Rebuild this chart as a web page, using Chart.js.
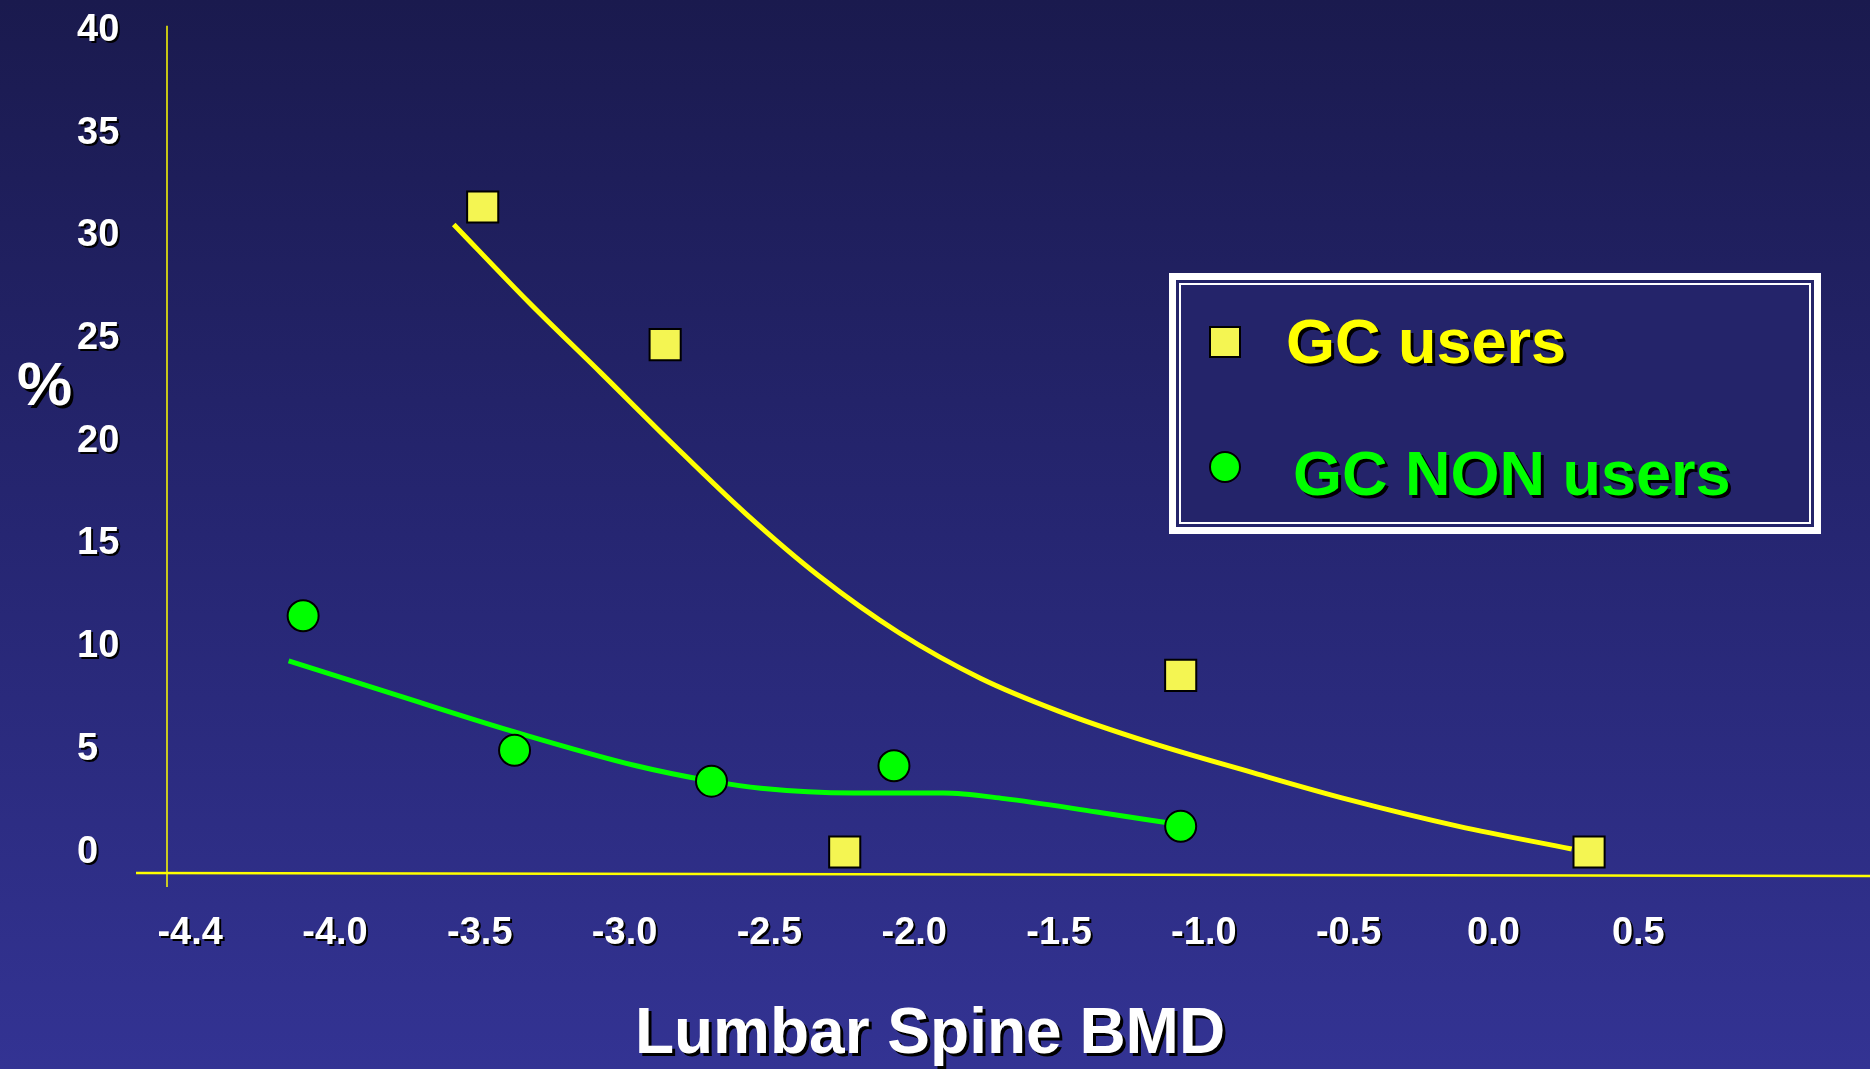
<!DOCTYPE html>
<html>
<head>
<meta charset="utf-8">
<script src="https://cdn.jsdelivr.net/npm/chart.js@4.4.1/dist/chart.umd.min.js"></script>
<style>
html, body { margin: 0; padding: 0; overflow: hidden; }
body {
    width: 1870px;
    height: 1069px;
    background: linear-gradient(to bottom, #1a1a4e 0%, #262672 50%, #333393 100%);
}
#wrap { position: relative; width: 1870px; height: 1069px; }
</style>
</head>
<body>
<div id="wrap"><canvas id="bmdChart"></canvas></div>
<script>
// axis ticks (the first slot is printed "-4.4" on the slide)
var xTickValues = [-4.5, -4.0, -3.5, -3.0, -2.5, -2.0, -1.5, -1.0, -0.5, 0.0, 0.5];
var xTickLabels = ['-4.4', '-4.0', '-3.5', '-3.0', '-2.5', '-2.0', '-1.5', '-1.0', '-0.5', '0.0', '0.5'];
var yTickValues = [0, 5, 10, 15, 20, 25, 30, 35, 40];

// observed points
var gcUsersX = [-3.49, -2.86, -2.24, -1.08, 0.33];
var gcUsersY = [31.4, 24.7, 0, 8.6, 0];
var gcNonUsersX = [-4.11, -3.38, -2.70, -2.07, -1.08];
var gcNonUsersY = [11.5, 4.95, 3.45, 4.2, 1.25];

// fitted trend curves
var gcUsersFitX = [-3.59, -3.33, -3.08, -2.84, -2.58, -2.33, -2.05, -1.77, -1.50, -1.19, -0.84, -0.50, -0.12, 0.27];
var gcUsersFitY = [30.55, 26.75, 23.3, 19.95, 16.45, 13.45, 10.65, 8.45, 6.85, 5.35, 3.9, 2.55, 1.25, 0.15];
var gcNonUsersFitX = [-4.16, -3.80, -3.38, -2.96, -2.70, -2.53, -2.21, -1.90, -1.69, -1.37, -1.09];
var gcNonUsersFitY = [9.3, 7.7, 5.85, 4.2, 3.45, 3.1, 2.87, 2.87, 2.6, 1.95, 1.35];

var FONT = '"Liberation Sans", Arial, sans-serif';
Chart.defaults.font.family = FONT;

function toPoints(xs, ys) {
    return xs.map(function (x, i) { return { x: x, y: ys[i] }; });
}

var slidePlugin = {
    id: 'slide',
    beforeDraw: function (chart) {
        // drop shadow for the tick labels
        var ctx = chart.ctx;
        ctx.shadowColor = '#000';
        ctx.shadowOffsetX = 2;
        ctx.shadowOffsetY = 2;
        ctx.shadowBlur = 0;
    },
    beforeDatasetsDraw: function (chart) {
        var ctx = chart.ctx;
        var a = chart.chartArea;
        ctx.shadowColor = 'rgba(0,0,0,0)';
        ctx.shadowOffsetX = 0;
        ctx.shadowOffsetY = 0;

        ctx.save();
        ctx.strokeStyle = '#ffff00';
        ctx.lineWidth = 1.5;
        ctx.beginPath();
        ctx.moveTo(a.left, a.top);
        ctx.lineTo(a.left, a.bottom + 13);
        ctx.stroke();
        ctx.lineWidth = 2.5;
        ctx.beginPath();
        ctx.moveTo(a.left - 31, a.bottom - 1);
        ctx.lineTo(a.right, a.bottom + 2);
        ctx.stroke();
        ctx.restore();
    },
    afterDraw: function (chart) {
        var ctx = chart.ctx;
        var usersSet = chart.data.datasets[0];
        var nonSet = chart.data.datasets[1];

        ctx.save();
        ctx.shadowColor = '#000';
        ctx.shadowOffsetX = 3;
        ctx.shadowOffsetY = 3;
        ctx.shadowBlur = 0;
        ctx.fillStyle = '#fff';
        ctx.textBaseline = 'alphabetic';
        ctx.font = 'bold 64px ' + FONT;
        ctx.textAlign = 'center';
        ctx.fillText('Lumbar Spine BMD', 930, 1053);
        ctx.font = 'bold 62px ' + FONT;
        ctx.textAlign = 'left';
        ctx.fillText('%', 17, 405);

        // legend box with double white frame
        ctx.shadowColor = 'rgba(0,0,0,0)';
        ctx.fillStyle = '#fff';
        ctx.fillRect(1169, 273, 652, 261);
        ctx.fillStyle = '#24246a';
        ctx.fillRect(1176, 280, 638, 247);
        ctx.strokeStyle = '#fff';
        ctx.lineWidth = 2;
        ctx.strokeRect(1180, 284, 630, 239);

        ctx.fillStyle = usersSet.backgroundColor;
        ctx.strokeStyle = '#000';
        ctx.lineWidth = 2;
        ctx.fillRect(1210, 327, 30, 30);
        ctx.strokeRect(1210, 327, 30, 30);

        ctx.fillStyle = nonSet.backgroundColor;
        ctx.beginPath();
        ctx.arc(1225, 467, 15, 0, Math.PI * 2);
        ctx.fill();
        ctx.stroke();

        ctx.shadowColor = '#000';
        ctx.font = 'bold 63px ' + FONT;
        ctx.fillStyle = '#ffff00';
        ctx.fillText(usersSet.label, 1286, 363);
        ctx.fillStyle = '#00ff00';
        ctx.fillText(nonSet.label, 1293, 495);
        ctx.restore();
    }
};

var bmdChart = new Chart(document.getElementById('bmdChart'), {
    type: 'scatter',
    data: {
        datasets: [
            {
                label: 'GC users',
                data: toPoints(gcUsersX, gcUsersY),
                pointStyle: 'rect',
                pointRadius: 22,
                backgroundColor: '#f4f552',
                borderColor: '#000',
                borderWidth: 2
            },
            {
                label: 'GC NON users',
                data: toPoints(gcNonUsersX, gcNonUsersY),
                pointStyle: 'circle',
                pointRadius: 15.5,
                backgroundColor: '#00ff00',
                borderColor: '#000',
                borderWidth: 2
            },
            {
                label: 'GC users trend',
                data: toPoints(gcUsersFitX, gcUsersFitY),
                showLine: true,
                pointRadius: 0,
                borderColor: '#ffff00',
                borderWidth: 5,
                cubicInterpolationMode: 'monotone'
            },
            {
                label: 'GC NON users trend',
                data: toPoints(gcNonUsersFitX, gcNonUsersFitY),
                showLine: true,
                pointRadius: 0,
                borderColor: '#00ff00',
                borderWidth: 5,
                cubicInterpolationMode: 'monotone'
            }
        ]
    },
    options: {
        responsive: true,
        maintainAspectRatio: false,
        animation: false,
        events: [],
        layout: { autoPadding: false, padding: { left: 77, top: 24, right: 0, bottom: 0 } },
        plugins: {
            legend: { display: false },
            tooltip: { enabled: false }
        },
        scales: {
            x: {
                type: 'linear',
                min: -4.58,
                max: 1.30,
                grid: { display: false },
                border: { display: false },
                afterBuildTicks: function (scale) {
                    scale.ticks = xTickValues.map(function (v) { return { value: v }; });
                },
                afterFit: function (scale) { scale.height = 195; },
                ticks: {
                    autoSkip: false,
                    maxRotation: 0,
                    padding: 29,
                    color: '#fff',
                    font: { size: 38, weight: 'bold' },
                    callback: function (value, index) { return xTickLabels[index]; }
                }
            },
            y: {
                type: 'linear',
                min: -1.07,
                max: 40.22,
                grid: { display: false },
                border: { display: false },
                afterBuildTicks: function (scale) {
                    scale.ticks = yTickValues.map(function (v) { return { value: v }; });
                },
                afterFit: function (scale) { scale.width = 90; },
                ticks: {
                    crossAlign: 'far',
                    color: '#fff',
                    font: { size: 38, weight: 'bold' }
                }
            }
        }
    },
    plugins: [slidePlugin]
});
</script>
</body>
</html>
